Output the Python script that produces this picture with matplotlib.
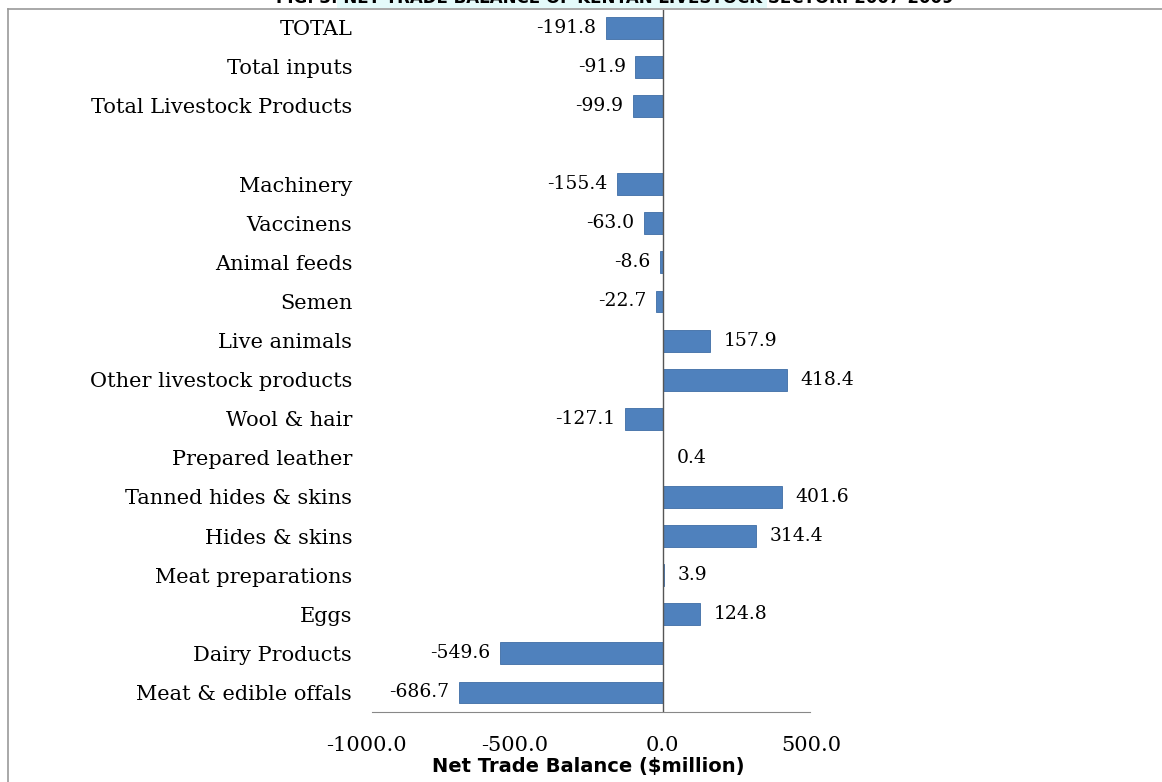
import matplotlib.pyplot as plt
from matplotlib.lines import Line2D
from matplotlib.patches import Rectangle

# data (top to bottom), blank row separates totals from items
categories = ["TOTAL", "Total inputs", "Total Livestock Products", "",
              "Machinery", "Vaccinens", "Animal feeds", "Semen", "Live animals",
              "Other livestock products", "Wool & hair", "Prepared leather",
              "Tanned hides & skins", "Hides & skins", "Meat preparations",
              "Eggs", "Dairy Products", "Meat & edible offals"]
values = [-191.8, -91.9, -99.9, None,
          -155.4, -63.0, -8.6, -22.7, 157.9,
          418.4, -127.1, 0.4,
          401.6, 314.4, 3.9,
          124.8, -549.6, -686.7]
xticks = [-1000, -500, 0, 500]
title = "FIG. 3: NET TRADE BALANCE OF KENYAN LIVESTOCK SECTOR: 2007-2009"
xlabel = "Net Trade Balance ($million)"

serif = "DejaVu Serif"
bar_color = "#4F81BD"

fig = plt.figure(figsize=(11.62, 7.82), dpi=100)
ax = fig.add_axes([0.315, 0.0895, 0.383, 0.898])

pos = list(range(len(categories)))
bar_pos = [p for p, v in zip(pos, values) if v is not None]
bar_vals = [v for v in values if v is not None]
ax.barh(bar_pos, bar_vals, height=0.56, color=bar_color,
        edgecolor="#3E6DA6", linewidth=0.6, zorder=2)

for p, v in zip(bar_pos, bar_vals):
    if v < 0:
        ax.annotate(f"{v:.1f}", (v, p), xytext=(-7, 0), textcoords="offset points",
                    ha="right", va="center", fontsize=13.5, family=serif)
    else:
        ax.annotate(f"{v:.1f}", (v, p), xytext=(10, 0), textcoords="offset points",
                    ha="left", va="center", fontsize=13.5, family=serif)

ax.set_xlim(-1000, 500)
ax.set_ylim(17.5, -0.46)
ax.axvline(0, color="#555555", lw=1, zorder=3)

ax.set_yticks(pos)
ax.set_yticklabels(categories, family=serif, fontsize=15)
ax.tick_params(axis="y", length=0, pad=10)

ax.set_xticks(xticks)
ax.set_xticklabels([f"{t:.1f}" for t in xticks], family=serif, fontsize=15)
ax.tick_params(axis="x", length=0, pad=17)

for s in ["top", "right", "left"]:
    ax.spines[s].set_visible(False)
ax.spines["bottom"].set_color("#888888")
ax.spines["bottom"].set_bounds(-980, 495)

ax.set_xlabel(xlabel, fontsize=14, fontweight="bold", family="DejaVu Sans",
              labelpad=2)

# outer frame (left and top edges, as in the cropped screenshot)
fig.add_artist(Line2D([0.007, 0.007], [0.0, 0.988], transform=fig.transFigure,
                      color="#999999", lw=1.2))
fig.add_artist(Line2D([0.007, 1.0], [0.988, 0.988], transform=fig.transFigure,
                      color="#999999", lw=1.2))

# faint highlight behind part of the title
fig.add_artist(Rectangle((0.29, 0.99), 0.37, 0.01, transform=fig.transFigure,
                         facecolor="#E4FAFA", edgecolor="none", zorder=0))

# title is cut off at the top of the image
fig.text(0.529, 1.003, title, ha="center", va="center", fontsize=12,
         fontweight="bold", family="DejaVu Sans")

fig.savefig("out.png", dpi=100)
